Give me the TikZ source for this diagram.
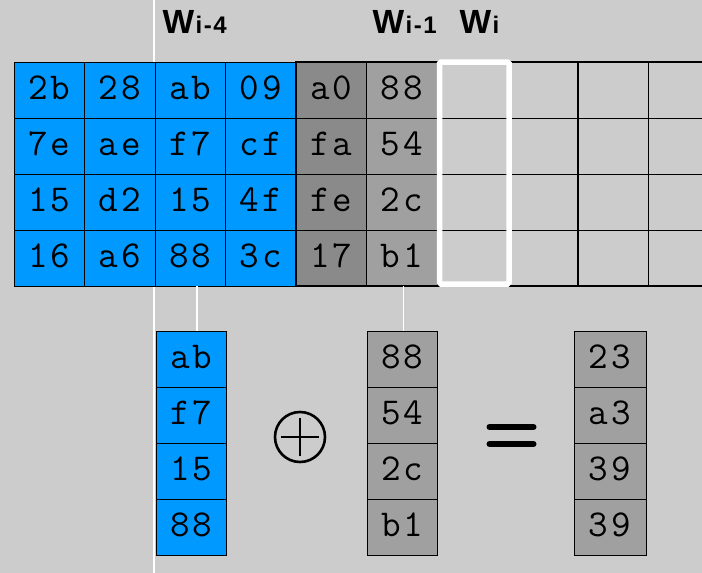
\documentclass[tikz,border=0pt]{standalone}
\usepackage{fontspec}
\setmainfont{Liberation Sans}
\newfontfamily\cellfont{Latin Modern Mono}[LetterSpace=8]
\definecolor{bgc}{RGB}{204,204,204}
\definecolor{aesblue}{RGB}{0,153,255}
\definecolor{gdark}{RGB}{138,138,138}
\definecolor{glight}{RGB}{160,160,160}
\begin{document}
\begin{tikzpicture}[x=1pt,y=-1pt,
  cell/.style={draw=black, line width=0.9pt, minimum width=70.5pt, minimum height=56pt,
    inner sep=0pt, outer sep=0pt, anchor=north west, text height=19pt, text depth=0pt,
    font=\cellfont\fontsize{38}{38}\selectfont},
  bcell/.style={cell, fill=aesblue},
  dcell/.style={cell, fill=gdark},
  lcell/.style={cell, fill=glight},
  ecell/.style={cell, fill=bgc},
  wline/.style={draw=white, line width=1.5pt},
  thickb/.style={draw=black, line width=2.6pt},
  wlabel/.style={anchor=base west, inner sep=0pt, outer sep=0pt, font=\bfseries}
]
\useasboundingbox (0,0) rectangle (702,573);
\clip (0,0) rectangle (702,573);
\fill[bgc] (0,0) rectangle (702,573);

% long white marker line
\coordinate (mtop) at (154,0);
\coordinate (mbot) at (154,573);
\draw[wline] (mtop) -- (mbot);

% top grid: blue columns
\foreach \r/\a/\b/\c/\d [count=\j from 1] in {1/2b/28/ab/09, 2/7e/ae/f7/cf, 3/15/d2/15/4f, 4/16/a6/88/3c}{
  \node[bcell] (c1\j) at (14,{62+56*(\j-1)}) {\a};
  \node[bcell] (c2\j) at (84.5,{62+56*(\j-1)}) {\b};
  \node[bcell] (c3\j) at (155,{62+56*(\j-1)}) {\c};
  \node[bcell] (c4\j) at (225.5,{62+56*(\j-1)}) {\d};
}
% gray columns
\foreach \a/\b [count=\j from 1] in {a0/88, fa/54, fe/2c, 17/b1}{
  \node[dcell] (c5\j) at (296,{62+56*(\j-1)}) {\a};
  \node[lcell] (c6\j) at (366.5,{62+56*(\j-1)}) {\b};
}
% empty columns
\foreach \j in {1,...,4}{
  \node[ecell] (c7\j) at (437,{62+56*(\j-1)}) {};
  \node[ecell] (c8\j) at (507.5,{62+56*(\j-1)}) {};
  \node[ecell] (c9\j) at (578,{62+56*(\j-1)}) {};
  \node[ecell] (c10\j) at (648.5,{62+56*(\j-1)}) {};
}
% thick borders
\draw[thickb] (c51.north west) rectangle (c104.south east);
\draw[thickb] (c91.north west) -- (c94.south west);
% white selection box
\draw[draw=white, line width=5.5pt, rounded corners=1.5pt] (439.5,62) rectangle (509,284);

% labels
\node[wlabel] (l4) at (162.5,33) {\fontsize{33.5}{33}\selectfont W\kern1.5pt\fontsize{24}{24}\selectfont i\kern1.5pt-\kern1.5pt4};
\node[wlabel] (l1) at (372.5,33) {\fontsize{33.5}{33}\selectfont W\kern1.5pt\fontsize{24}{24}\selectfont i\kern1.5pt-\kern1.5pt1};
\node[wlabel] (l0) at (459.5,33) {\fontsize{33.5}{33}\selectfont W\kern1.5pt\fontsize{24}{24}\selectfont i};

% bottom columns
\foreach \a/\b/\c [count=\j from 1] in {ab/88/23, f7/54/a3, 15/2c/39, 88/b1/39}{
  \node[bcell] (a\j) at (156,{331+56*(\j-1)}) {\a};
  \node[lcell] (b\j) at (367,{331+56*(\j-1)}) {\b};
  \node[lcell, minimum width=72pt] (r\j) at (574,{331+56*(\j-1)}) {\c};
}

% white connector lines
\draw[wline] ([xshift=6.5pt]c34.south) -- ([xshift=6.5pt]c34.south |- a1.north);
\draw[wline] ([xshift=1.5pt]c64.south) -- ([xshift=1.5pt]c64.south |- b1.north);

% xor symbol
\node[circle, draw=black, line width=2.6pt, minimum size=50pt, inner sep=0pt] (xor) at (300,437) {};
\draw[line width=2.6pt] ([yshift=-19pt]xor.center) -- ([yshift=19pt]xor.center);
\draw[line width=2.6pt] ([xshift=-19pt]xor.center) -- ([xshift=19pt]xor.center);

% equals sign
\coordinate (eq) at (511.5,435.5);
\draw[line width=6pt, line cap=round] ([xshift=-22pt,yshift=-8.5pt]eq) -- ([xshift=22pt,yshift=-8.5pt]eq);
\draw[line width=6pt, line cap=round] ([xshift=-22pt,yshift=8.5pt]eq) -- ([xshift=22pt,yshift=8.5pt]eq);
\end{tikzpicture}
\end{document}
